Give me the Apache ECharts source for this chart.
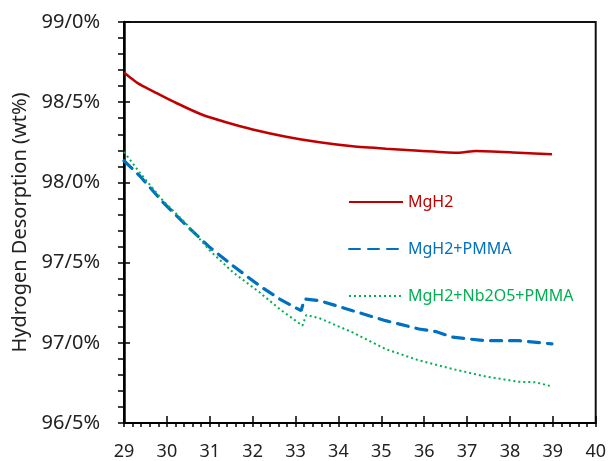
<!DOCTYPE html>
<html>
<head>
<meta charset="utf-8">
<script src="https://cdn.jsdelivr.net/npm/echarts@6/dist/echarts.min.js"></script>
<style>html,body{margin:0;padding:0;background:#fff}#c{width:609px;height:461px}</style>
</head>
<body>
<div id="c"></div>
<script>
// ---- data ----
var seriesNames = ['MgH2', 'MgH2+PMMA', 'MgH2+Nb2O5+PMMA'];

var mgh2X = [29.0, 29.15, 29.3, 29.5, 29.68, 30.22, 30.84, 31.38, 32.0, 32.78, 33.56, 34.33, 35.11, 35.88, 36.81, 37.2, 38.2, 38.98];
var mgh2Y = [98.685, 98.653, 98.622, 98.592, 98.568, 98.495, 98.42, 98.375, 98.33, 98.285, 98.25, 98.225, 98.21, 98.198, 98.185, 98.196, 98.185, 98.175];

var pmmaX = [29.0, 29.37, 29.91, 30.46, 31.0, 31.54, 32.16, 32.63, 33.13, 33.21, 33.56, 34.33, 35.1, 35.88, 36.27, 36.66, 37.43, 38.21, 38.98];
var pmmaY = [98.135, 98.04, 97.876, 97.73, 97.595, 97.48, 97.356, 97.273, 97.2, 97.273, 97.263, 97.2, 97.138, 97.086, 97.07, 97.035, 97.013, 97.013, 96.993];

var nbX = [29.0, 29.37, 29.91, 30.46, 31.0, 31.54, 32.16, 32.63, 33.16, 33.25, 33.56, 34.33, 35.11, 35.88, 36.66, 37.43, 38.21, 38.6, 38.95];
var nbY = [98.19, 98.06, 97.886, 97.74, 97.575, 97.44, 97.315, 97.21, 97.107, 97.173, 97.153, 97.065, 96.96, 96.89, 96.837, 96.79, 96.757, 96.754, 96.73];

var xMin = 29, xMax = 40, xStep = 1;
var yMin = 96.5, yMax = 99.0, yStep = 0.5;
var yAxisTitle = 'Hydrogen Desorption (wt%)';

// ---- chart ----
function pairs(xs, ys) { return xs.map(function (x, i) { return [x, ys[i]]; }); }
var FONT = '"Noto Sans", "Open Sans", sans-serif';
var colors = ['#C00000', '#0070C0', '#00B050'];

var chart = echarts.init(document.getElementById('c'), null, { renderer: 'canvas' });
chart.setOption({
  animation: false,
  backgroundColor: '#fff',
  grid: { left: 124, right: 13, top: 22, bottom: 37, show: true, borderColor: '#111', borderWidth: 2, backgroundColor: 'transparent' },
  legend: {
    orient: 'vertical', left: 343, top: 189, itemWidth: 54, itemHeight: 16, itemGap: 31,
    itemStyle: { opacity: 0 },
    textStyle: { fontFamily: FONT, fontSize: 16, lineHeight: 16 },
    data: seriesNames.map(function (n, i) { return { name: n, textStyle: { color: colors[i] } }; })
  },
  xAxis: [{
    type: 'value', min: xMin, max: xMax, interval: xStep,
    axisLine: { show: true, onZero: false, lineStyle: { color: '#000', width: 2 } },
    axisTick: { show: true, inside: true, length: 7, lineStyle: { color: '#000', width: 1.5 } },
    axisLabel: { margin: 20, fontFamily: FONT, fontSize: 18, color: '#222' },
    splitLine: { show: false }
  }, {
    type: 'value', min: xMin, max: xMax, interval: xStep, position: 'bottom',
    axisLine: { show: false },
    axisTick: { show: true, inside: false, length: 4, lineStyle: { color: '#000', width: 1.5 } },
    minorTick: { show: true, splitNumber: 5, length: 4, lineStyle: { color: '#000', width: 1.5 } },
    axisLabel: { show: false }, splitLine: { show: false }
  }],
  yAxis: [{
    type: 'value', min: yMin, max: yMax, interval: yStep,
    name: yAxisTitle, nameLocation: 'middle', nameRotate: 90, nameGap: 88,
    nameTextStyle: { fontFamily: FONT, fontSize: 20, color: '#222' },
    axisLine: { show: true, onZero: false, lineStyle: { color: '#000', width: 2.5 } },
    axisTick: { show: true, inside: true, length: 6, lineStyle: { color: '#000', width: 1.5 } },
    axisLabel: { margin: 24, fontFamily: FONT, fontSize: 20, color: '#222',
      formatter: function (v) { return v.toFixed(1).replace('.', '/') + '%'; } },
    splitLine: { show: false }
  }, {
    type: 'value', min: yMin, max: yMax, interval: yStep, position: 'left',
    axisLine: { show: false },
    axisTick: { show: true, inside: false, length: 6, lineStyle: { color: '#000', width: 1.5 } },
    minorTick: { show: true, splitNumber: 5, length: 6, lineStyle: { color: '#000', width: 1.5 } },
    axisLabel: { show: false }, splitLine: { show: false }
  }],
  series: [{
    name: seriesNames[0], type: 'line', data: pairs(mgh2X, mgh2Y), showSymbol: false, symbol: 'none',
    smooth: 0.2, color: colors[0], lineStyle: { color: colors[0], width: 2.5, type: 'solid' }
  }, {
    name: seriesNames[1], type: 'line', data: pairs(pmmaX, pmmaY), showSymbol: false, symbol: 'none',
    color: colors[1], lineStyle: { color: colors[1], width: 3.2, type: [11, 8], cap: 'round' }
  }, {
    name: seriesNames[2], type: 'line', data: pairs(nbX, nbY), showSymbol: false, symbol: 'none',
    color: colors[2], lineStyle: { color: colors[2], width: 2, type: [2, 3] }
  }]
});
</script>
</body>
</html>
